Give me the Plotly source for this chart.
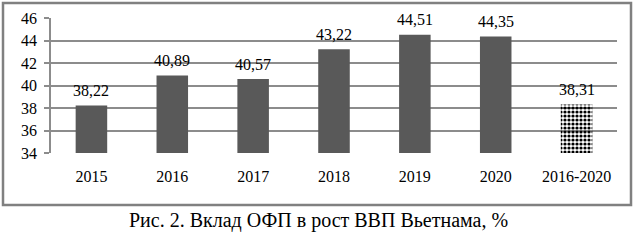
import plotly.graph_objects as go

categories = ["2015", "2016", "2017", "2018", "2019", "2020", "2016-2020"]
values = [38.22, 40.89, 40.57, 43.22, 44.51, 44.35, 38.31]
y_ticks = [34, 36, 38, 40, 42, 44, 46]
caption = "Рис. 2. Вклад ОФП в рост ВВП Вьетнама, %"

FONT = "Times New Roman, Liberation Serif, serif"
W, H = 635, 241
ml, mr, mt, mb = 51, 18, 18, 88
pw, ph = W - ml - mr, H - mt - mb

def px_x(x):
    return (x - ml) / pw

def px_y(y):
    return (H - mb - y) / ph

colors = ["#595959"] * (len(values) - 1) + ["#000000"]
shapes_pat = [""] * (len(values) - 1) + ["."]
labels = [f"{v:.2f}".replace(".", ",") for v in values]

fig = go.Figure()
fig.add_trace(go.Bar(
    x=categories,
    y=values,
    width=0.39,
    marker=dict(
        color=colors,
        line=dict(width=0),
        pattern=dict(shape=shapes_pat, fgcolor="#000000", bgcolor="#ffffff",
                     size=4, solidity=0.5, fillmode="replace"),
    ),
    hoverinfo="skip",
))

annotations = [dict(
    x=i, y=v, xref="x", yref="y", text=t, showarrow=False,
    xanchor="center", yanchor="middle", yshift=15,
    font=dict(family=FONT, size=16, color="#000000"),
) for i, (v, t) in enumerate(zip(values, labels))]

annotations.append(dict(
    text=caption, xref="paper", yref="paper",
    x=px_x(318), y=px_y(221), xanchor="center", yanchor="middle",
    showarrow=False, font=dict(family=FONT, size=20, color="#000000"),
))

fig.update_layout(
    width=W, height=H,
    margin=dict(l=ml, r=mr, t=mt, b=mb, autoexpand=False),
    paper_bgcolor="#ffffff",
    plot_bgcolor="#ffffff",
    showlegend=False,
    font=dict(family=FONT, size=16, color="#000000"),
    xaxis=dict(
        type="category",
        categoryorder="array",
        categoryarray=categories,
        range=[-0.5, len(categories) - 0.5],
        showgrid=False,
        showline=False,
        ticks="",
        tickfont=dict(family=FONT, size=16),
        ticklabelstandoff=12,
        automargin=False,
    ),
    yaxis=dict(
        range=[34, 46],
        tickvals=y_ticks,
        ticktext=[str(t) for t in y_ticks],
        showgrid=True,
        gridcolor="#8c8c8c",
        gridwidth=1.5,
        showline=True,
        linecolor="#8c8c8c",
        linewidth=1.5,
        ticks="outside",
        ticklen=5,
        tickcolor="#8c8c8c",
        tickwidth=1.5,
        tickfont=dict(family=FONT, size=16),
        ticklabelstandoff=4,
        zeroline=False,
        automargin=False,
    ),
    shapes=[dict(
        type="rect", xref="paper", yref="paper",
        x0=px_x(3), x1=px_x(631), y0=px_y(205), y1=px_y(3),
        line=dict(color="#808080", width=2.5),
        fillcolor="rgba(0,0,0,0)", layer="below",
    )],
    annotations=annotations,
)

fig.write_html(
    "out.html",
    config={"displayModeBar": False},
    post_script="document.body.style.margin='0';document.body.style.padding='0';",
)
